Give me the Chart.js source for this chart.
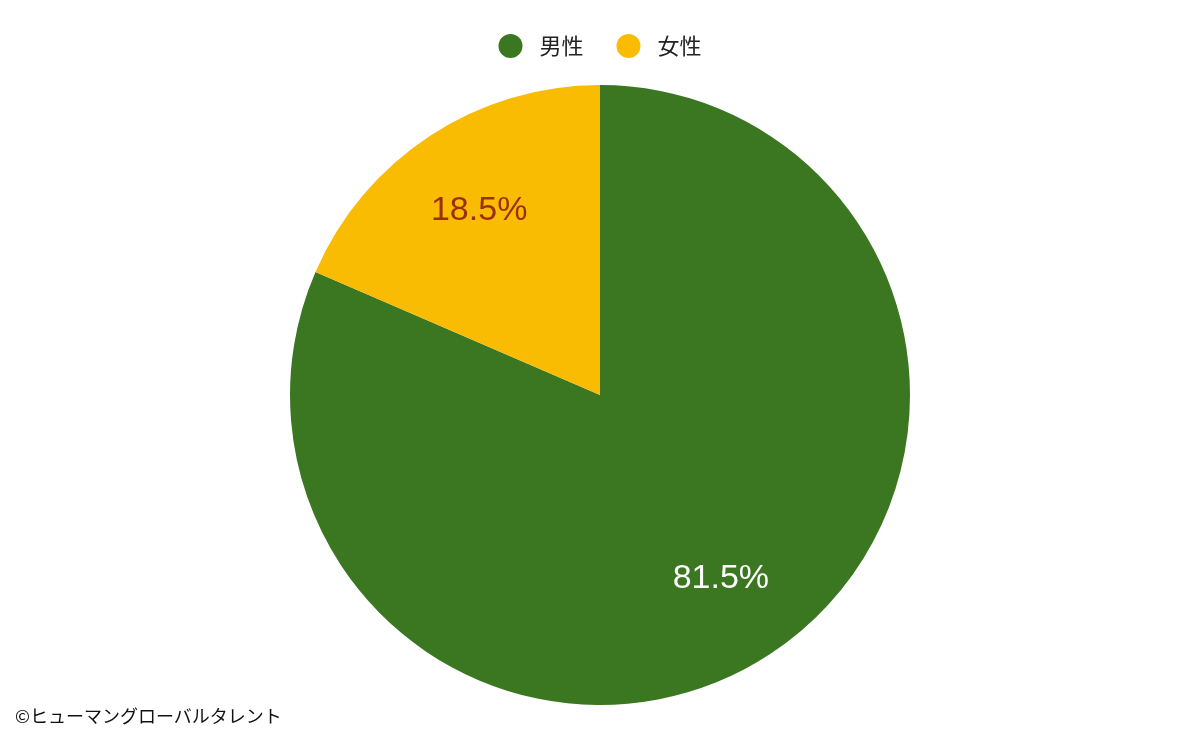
<!DOCTYPE html>
<html lang="ja">
<head>
<meta charset="utf-8">
<script src="https://cdn.jsdelivr.net/npm/chart.js@4.4.1/dist/chart.umd.min.js"></script>
<style>
  html, body { margin: 0; padding: 0; background: #fff; }
  #wrap { position: relative; width: 1200px; height: 742px; }
  #credit {
    position: absolute; left: 15px; top: 702px;
    font-family: "Noto Sans CJK JP", sans-serif; font-size: 18px; color: #111;
  }
</style>
</head>
<body>
<div id="wrap">
  <canvas id="pie" width="1200" height="742"></canvas>
  <div id="credit">©ヒューマングローバルタレント</div>
</div>
<script>
const categories = ['男性', '女性'];
const shares = [81.5, 18.5];
const sliceColors = ['#3b7721', '#f9bc02'];
const labelColors = ['#ffffff', '#9a2f0c'];

// draw the percentage inside each slice
const sliceLabels = {
  id: 'sliceLabels',
  afterDatasetsDraw(chart) {
    const ctx = chart.ctx;
    const meta = chart.getDatasetMeta(0);
    ctx.save();
    ctx.font = '34px "Liberation Sans", Arial, sans-serif';
    ctx.textAlign = 'center';
    ctx.textBaseline = 'middle';
    meta.data.forEach(function(arc, i) {
      const mid = (arc.startAngle + arc.endAngle) / 2;
      const r = arc.outerRadius * 0.71;
      ctx.fillStyle = labelColors[i];
      ctx.fillText(shares[i].toFixed(1) + '%', arc.x + Math.cos(mid) * r, arc.y + Math.sin(mid) * r);
    });
    ctx.restore();
  }
};

// legend on top: small dots with a wide gap before the text
const topLegend = {
  id: 'topLegend',
  afterDraw(chart) {
    const ctx = chart.ctx;
    const labels = chart.data.labels;
    const colors = chart.data.datasets[0].backgroundColor;
    const dot = 12, gap = 17, between = 33, y = 46;
    ctx.save();
    ctx.font = '22px "Noto Sans CJK JP", sans-serif';
    ctx.textBaseline = 'middle';
    const widths = labels.map(t => ctx.measureText(t).width);
    let total = 0;
    widths.forEach((w, i) => { total += dot * 2 + gap + w + (i ? between : 0); });
    let x = chart.width / 2 - total / 2;
    labels.forEach(function(t, i) {
      ctx.fillStyle = colors[i];
      ctx.beginPath();
      ctx.arc(x + dot, y, dot, 0, Math.PI * 2);
      ctx.fill();
      ctx.fillStyle = '#222';
      ctx.fillText(t, x + dot * 2 + gap, y);
      x += dot * 2 + gap + widths[i] + between;
    });
    ctx.restore();
  }
};

new Chart(document.getElementById('pie'), {
  type: 'pie',
  data: {
    labels: categories,
    datasets: [{
      data: shares,
      backgroundColor: sliceColors,
      borderWidth: 0
    }]
  },
  options: {
    responsive: false,
    animation: false,
    layout: { padding: { top: 85, bottom: 37 } },
    plugins: {
      legend: { display: false },
      tooltip: { enabled: false }
    }
  },
  plugins: [sliceLabels, topLegend]
});
</script>
</body>
</html>
